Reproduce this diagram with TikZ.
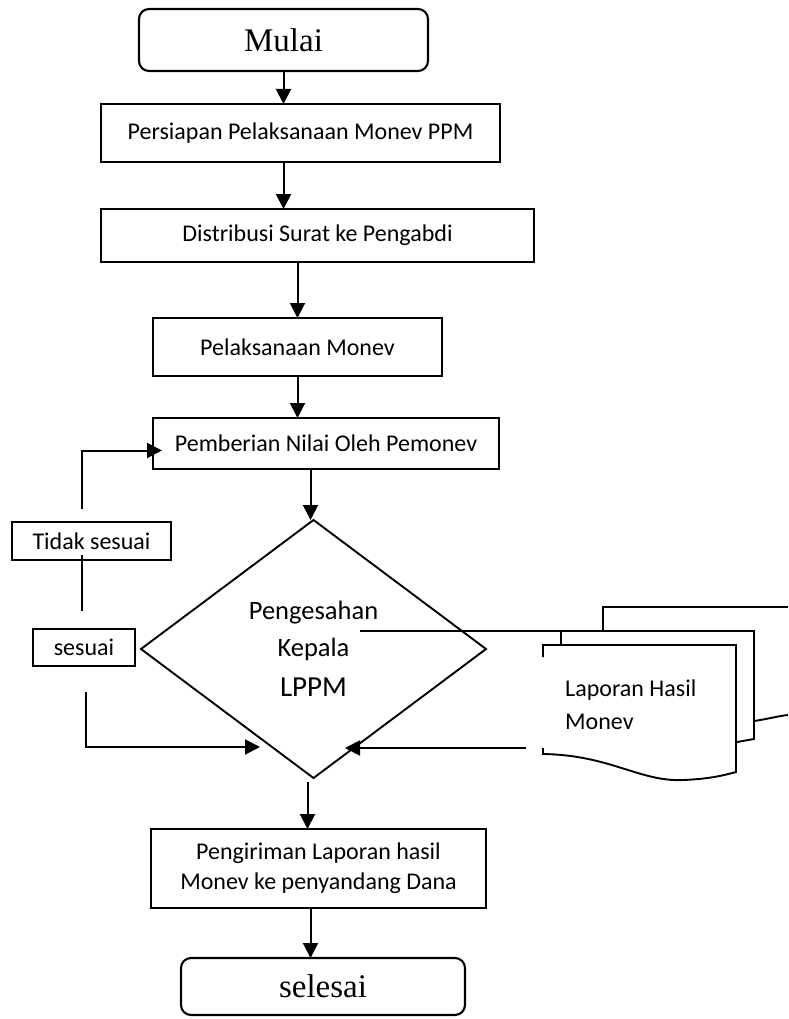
\documentclass[tikz,border=0pt]{standalone}
\usepackage{fontspec}
\newfontfamily\calfont{Carlito}
\newfontfamily\serfont{Liberation Serif}
\usetikzlibrary{arrows.meta,shapes.geometric}
\tikzset{
  boxline/.style={draw, line width=2.1pt, inner sep=0pt, outer sep=0pt},
  proc/.style={boxline, rectangle, font=\calfont\fontsize{24}{30}\selectfont, align=center},
  term/.style={boxline, rectangle, rounded corners=10pt, font=\serfont\fontsize{33}{38}\selectfont},
  decision/.style={draw, line width=1.9pt, diamond, inner sep=0pt, outer sep=0pt, align=center,
    font=\calfont\fontsize{26.5}{37}\selectfont},
  arr/.style={line width=2pt, -{Triangle[length=15pt,width=15pt]}},
  ln/.style={line width=2pt},
  docline/.style={line width=1.9pt},
}
\begin{document}
\begin{tikzpicture}[x=1pt,y=-1pt]
\useasboundingbox (0,0) rectangle (788,1019);

% main nodes
\node[term, minimum width=289pt, minimum height=62pt] (mulai) at (283.5,40) {Mulai};
\node[proc, minimum width=399pt, minimum height=58pt] (b1) at (300.5,133) {Persiapan Pelaksanaan Monev PPM};
\node[proc, minimum width=433pt, minimum height=53pt] (b2) at (317.5,235.5) {Distribusi Surat ke Pengabdi};
\node[proc, minimum width=289pt, minimum height=58pt] (b3) at (297.5,347) {Pelaksanaan Monev};
\node[proc, minimum width=346pt, minimum height=51pt] (b4) at (326,443.5) {Pemberian Nilai Oleh Pemonev};
\node[decision, minimum width=345pt, minimum height=258pt] (dia) at (313.5,649)
  {Pengesahan\\Kepala\\[3pt]{\fontsize{29}{37}\selectfont LPPM}};
\node[proc, minimum width=159pt, minimum height=38pt] (tidak) at (91.5,541) {Tidak sesuai};
\node[proc, minimum width=102pt, minimum height=37pt] (ses) at (84,647.5) {sesuai};
\node[proc, minimum width=335pt, minimum height=79pt] (b5) at (318.5,868.5) {Pengiriman Laporan hasil\\Monev ke penyandang Dana};
\node[term, minimum width=284pt, minimum height=57pt] (sel) at (323,986.5) {selesai};

% multi-document (visible parts)
\draw[docline] (603,631) -- (603,607) -- (788,607);
\draw[docline] (754,721) .. controls (768,719) and (778,716) .. (788,715);
\draw[docline] (561,645) -- (561,631) -- (754,631) -- (754,739) -- (737,742);
\fill[white] (543,645) -- (736,645) -- (736,772) .. controls (725,775) and (710,779) .. (683,780)
  .. controls (640,782) and (610,755) .. (543,754) -- cycle;
\draw[docline] (543,657) -- (543,645) -- (736,645) -- (736,772) .. controls (725,775) and (710,779) .. (683,780)
  .. controls (640,782) and (610,755) .. (543,754) -- (543,748);
\node[font=\calfont\fontsize{24}{33}\selectfont, align=left, anchor=north west, inner sep=0pt] (doc) at (565,680) {Laporan Hasil\\Monev};

% stray line from diamond text to documents
\coordinate (st1) at (360,631);
\coordinate (st2) at (561,631);
\draw[docline] (st1) -- (st2);

% main flow arrows
\draw[arr] (mulai.south) -- (mulai.south |- b1.north);
\draw[arr] (mulai.south |- b1.south) -- (mulai.south |- b2.north);
\draw[arr] (b3.north |- b2.south) -- (b3.north);
\draw[arr] (b3.south) -- (b3.south |- b4.north);
\draw[arr] ([xshift=-3pt]dia.north |- b4.south) -- ([xshift=-3pt]dia.north);
\draw[arr, shorten <=4pt] ([xshift=-6pt]dia.south) -- ([xshift=-6pt]dia.south |- b5.north);
\draw[arr] ([xshift=-8pt]b5.south) -- ([xshift=-8pt]b5.south |- sel.north);

% left loop
\coordinate (t1) at (82,509);
\coordinate (t2) at (82,555);
\coordinate (t3) at (82,611);
\draw[arr, shorten >=-9pt] (t1) |- ([yshift=-7pt]b4.west);
\draw[ln] (t2) -- (t3);
\coordinate (s1) at (86,692);
\coordinate (a1) at (260,747);
\draw[arr] (s1) |- (a1);

% from documents to diamond
\coordinate (r1) at (526,748);
\coordinate (r2) at (345,748);
\draw[arr] (r1) -- (r2);
\end{tikzpicture}
\end{document}
